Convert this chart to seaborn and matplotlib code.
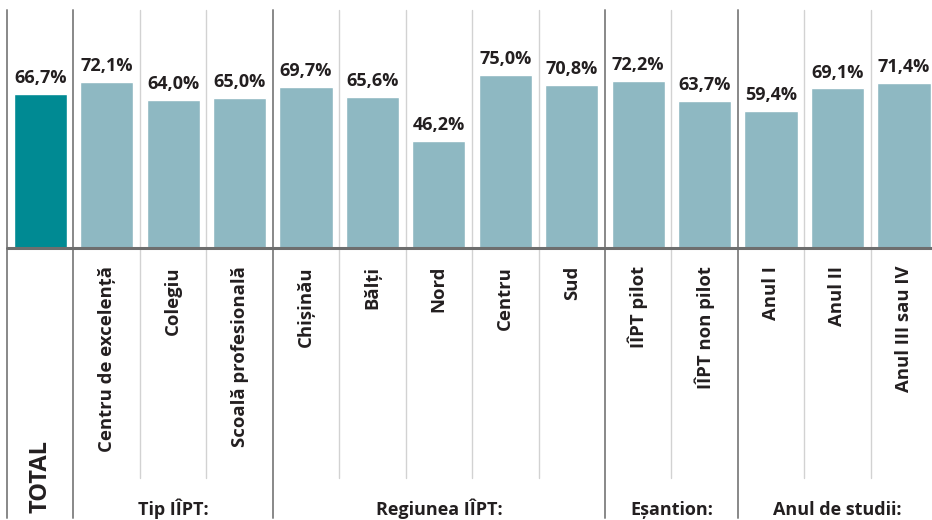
import matplotlib
matplotlib.use("Agg")
import matplotlib.pyplot as plt
import matplotlib.transforms as mtransforms
import seaborn as sns

categories = ["TOTAL", "Centru de excelență", "Colegiu", "Scoală profesională",
              "Chișinău", "Bălți", "Nord", "Centru", "Sud",
              "IÎPT pilot", "IÎPT non pilot",
              "Anul I", "Anul II", "Anul III sau IV"]
values = [66.7, 72.1, 64.0, 65.0, 69.7, 65.6, 46.2, 75.0, 70.8, 72.2, 63.7, 59.4, 69.1, 71.4]
groups = ["Tip IÎPT:", "Regiunea IÎPT:", "Eșantion:", "Anul de studii:"]
group_sizes = [3, 5, 2, 3]

TEAL = "#008A93"
LIGHT = "#8EB8C2"
TXT = "#231F20"

sns.set_style("white")
plt.rcParams["font.family"] = ["Open Sans", "DejaVu Sans"]

W, H = 932, 520
fig = plt.figure(figsize=(W / 100, H / 100), dpi=100)
col_w = 66.44
left_px, base_px, top_px = 7, 248, 10
ax = fig.add_axes([left_px / W, (H - base_px) / H, 14 * col_w / W, (base_px - top_px) / H])

palette = [TEAL] + [LIGHT] * (len(categories) - 1)
sns.barplot(x=categories, y=values, hue=categories, palette=palette, legend=False,
            width=0.8, saturation=1, ax=ax)

ax.set_xlim(-0.5, len(categories) - 0.5)
px_per_unit = 154 / 66.7
ax.set_ylim(0, (base_px - top_px) / px_per_unit)
ax.set_xticks([])
ax.set_yticks([])
ax.set_xlabel("")
ax.set_ylabel("")
for s in ax.spines.values():
    s.set_visible(False)

for cont in ax.containers:
    labs = [f"{v:.1f}".replace(".", ",") + "%" for v in cont.datavalues]
    ax.bar_label(cont, labels=labs, padding=5, fontsize=13, fontweight="bold", color=TXT)

axh = base_px - top_px
def fy(px):
    return -(px - base_px) / axh

# separators
major = {0}
acc = 1
for g in group_sizes:
    major.add(acc)
    acc += g
for i in range(len(categories) + 1):
    x = i - 0.5
    if i in major:
        ax.axvline(x, ymin=fy(518), ymax=1, color="#888888", lw=1.4, clip_on=False, zorder=0)
    else:
        ax.axvline(x, ymin=fy(478), ymax=1, color="#D2D2D2", lw=1.0, clip_on=False, zorder=0)

ax.axhline(0, color="#6E6E6E", lw=2.2, zorder=3, clip_on=False)

trans = mtransforms.blended_transform_factory(ax.transData, ax.transAxes)
for i, c in enumerate(categories):
    if i == 0:
        ax.text(i, fy(513), c, rotation=90, ha="center", va="bottom", fontsize=17,
                fontweight="bold", color=TXT, transform=trans, clip_on=False)
    else:
        ax.text(i, fy(266), c, rotation=90, ha="center", va="top", fontsize=13.3,
                fontweight="bold", color=TXT, transform=trans, clip_on=False)

start = 1
for g, n in zip(groups, group_sizes):
    xc = start + (n - 1) / 2
    ax.text(xc, fy(515), g, ha="center", va="baseline", fontsize=13,
            fontweight="bold", color=TXT, transform=trans, clip_on=False)
    start += n

fig.savefig("out.png", dpi=100)
